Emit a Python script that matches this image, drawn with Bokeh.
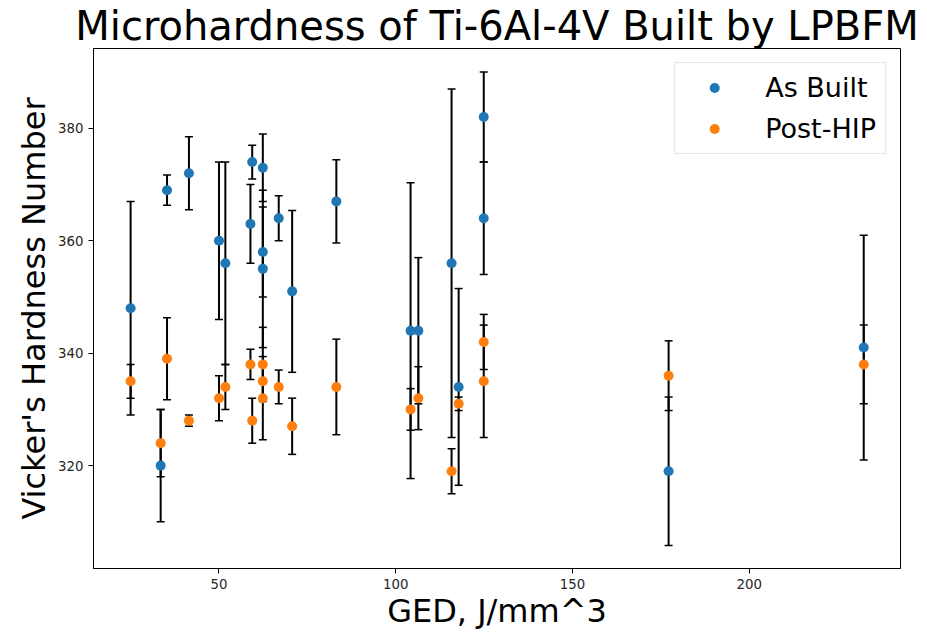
from bokeh.plotting import figure
from bokeh.models import ColumnDataSource, Whisker, TeeHead, FixedTicker, Range1d
from bokeh.embed import file_html
from bokeh.resources import INLINE

# ---- data ----
ged = [25.0, 33.5, 35.3, 41.5, 50.0, 51.8, 58.9, 59.4, 62.4, 62.4, 62.4,
       66.9, 70.7, 83.2, 104.2, 106.4, 115.8, 117.8, 124.9, 124.9, 177.2, 232.4]
as_built = [348, 320, 369, 372, 360, 356, 363, 374, 373, 358, 355,
            364, 351, 367, 344, 344, 356, 334, 382, 364, 319, 341]
as_built_err = [19, 10, 2.7, 6.5, 14, 18, 7, 3, 6, 8, 14,
                4, 14.4, 7.4, 26.3, 13, 31, 17.5, 8, 10, 13.2, 20]
post_hip = [335, 324, 339, 328, 332, 334, 338, 328, 338, 335, 332,
            334, 327, 334, 330, 332, 319, 331, 342, 335, 336, 338]
post_hip_err = [3, 6, 7.3, 1, 4, 4, 2.7, 4, 6.6, 3.3, 7.4,
                3, 5, 8.5, 3.7, 5.6, 4, 1.2, 4.9, 10, 6.2, 7]
x_ticks = [50, 100, 150, 200]
y_ticks = [320, 340, 360, 380]

FONT = "DejaVu Sans"

src_ab = ColumnDataSource(dict(
    x=ged, y=as_built,
    upper=[v + e for v, e in zip(as_built, as_built_err)],
    lower=[v - e for v, e in zip(as_built, as_built_err)]))
src_hip = ColumnDataSource(dict(
    x=ged, y=post_hip,
    upper=[v + e for v, e in zip(post_hip, post_hip_err)],
    lower=[v - e for v, e in zip(post_hip, post_hip_err)]))

p = figure(width=927, height=638, output_backend="svg", toolbar_location=None,
           x_range=Range1d(14.5, 242.8), y_range=Range1d(301.7, 394.2),
           min_border_left=93, min_border_right=27, min_border_bottom=70,
           min_border_top=47)
p.background_fill_color = "white"
p.border_fill_color = "white"
p.outline_line_color = "black"
p.outline_line_width = 1
p.xgrid.visible = False
p.ygrid.visible = False

p.title.text = "Microhardness of Ti-6Al-4V Built by LPBFM"
p.title.text_font = FONT
p.title.text_font_size = "40px"
p.title.text_font_style = "normal"
p.title.align = "center"
p.title.text_color = "black"
p.title.standoff = 0
p.title.offset = 0

for src in (src_ab, src_hip):
    w = Whisker(source=src, base="x", upper="upper", lower="lower",
                dimension="height", line_color="black", line_width=2,
                upper_head=TeeHead(size=8, line_color="black", line_width=1.5),
                lower_head=TeeHead(size=8, line_color="black", line_width=1.5))
    p.add_layout(w)

p.scatter("x", "y", source=src_ab, size=10, color="#1f77b4",
          line_color=None, legend_label="As Built")
p.scatter("x", "y", source=src_hip, size=10, color="#ff7f0e",
          line_color=None, legend_label="Post-HIP")

for ax, ticks in ((p.xaxis, x_ticks), (p.yaxis, y_ticks)):
    ax.ticker = FixedTicker(ticks=ticks)
    ax.minor_tick_line_color = None
    ax.major_tick_in = 0
    ax.major_tick_out = 5
    ax.major_tick_line_color = "black"
    ax.axis_line_color = "black"
    ax.major_label_text_font = FONT
    ax.major_label_text_font_size = "13.3px"
    ax.major_label_text_color = "#262626"
    ax.major_label_standoff = 5
    ax.axis_label_text_font = FONT
    ax.axis_label_text_font_size = "32px"
    ax.axis_label_text_font_style = "normal"
    ax.axis_label_text_color = "black"

p.xaxis.axis_label_standoff = 0
p.yaxis.axis_label_standoff = 2
p.xaxis.axis_label = "GED, J/mm^3"
p.yaxis.axis_label = "Vicker's Hardness Number"

lg = p.legend[0]
lg.location = "top_right"
lg.margin = 14
lg.padding = 9
lg.glyph_width = 60
lg.glyph_height = 25
lg.label_standoff = 21
lg.spacing = 10
lg.label_text_font = FONT
lg.label_text_font_size = "27px"
lg.label_text_color = "black"
lg.border_line_color = "#cccccc"
lg.border_line_width = 1
lg.background_fill_alpha = 0.8

open("out.html", "w").write(file_html(p, INLINE))
